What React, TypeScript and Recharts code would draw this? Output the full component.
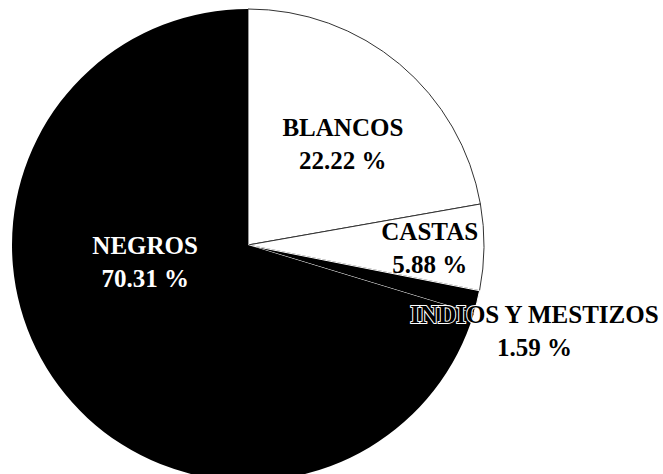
import React from 'react';
import { PieChart, Pie, Cell } from 'recharts';

const groups = ['BLANCOS', 'CASTAS', 'INDIOS Y MESTIZOS', 'NEGROS'];
const shares = [22.22, 5.88, 1.59, 70.31];

const fills = ['#ffffff', '#ffffff', '#000000', '#000000'];
const strokes = ['#333333', '#333333', '#ffffff', 'none'];
const textColors = ['#000000', '#000000', '#000000', '#ffffff'];
// label spot per slice, relative to the pie centre: radius factor and angle (deg)
const labelSpots = [
  { r: 0.595, a: 47.5 },
  { r: 0.77, a: 0 },
  { r: 1.264, a: -16.2 },
  { r: 0.44, a: 188 },
];

const data = groups.map((name, i) => ({ name, value: shares[i] }));

const RADIAN = Math.PI / 180;

const renderLabel = (props: any) => {
  const { cx, cy, outerRadius, index, name, value } = props;
  const spot = labelSpots[index];
  const x = cx + outerRadius * spot.r * Math.cos(spot.a * RADIAN);
  const y = cy - outerRadius * spot.r * Math.sin(spot.a * RADIAN);
  const halo = index === 2;
  return (
    <g key={`lbl-${index}`}>
      <text
        x={x}
        y={y}
        textAnchor="middle"
        fill={textColors[index]}
        stroke={halo ? '#ffffff' : 'none'}
        strokeWidth={halo ? 2 : 0}
        paintOrder="stroke"
        fontFamily="Liberation Serif"
        fontWeight="bold"
        fontSize={25}
      >
        <tspan x={x} dy="-0.2em">{name}</tspan>
        <tspan x={x} dy="1.3em">{`${value.toFixed(2)} %`}</tspan>
      </text>
    </g>
  );
};

export default function App() {
  return (
    <div style={{ width: 663, height: 474, background: '#fff', overflow: 'hidden' }}>
      <style>{'body{margin:0}'}</style>
      <PieChart width={663} height={474} margin={{ top: 0, right: 0, bottom: 0, left: 0 }}>
        <Pie
          data={data}
          dataKey="value"
          nameKey="name"
          cx={248}
          cy={245}
          outerRadius={236}
          startAngle={90}
          endAngle={-270}
          label={renderLabel}
          labelLine={false}
          isAnimationActive={false}
        >
          {data.map((d, i) => (
            <Cell key={d.name} fill={fills[i]} stroke={strokes[i]} strokeWidth={1} />
          ))}
        </Pie>
      </PieChart>
    </div>
  );
}
